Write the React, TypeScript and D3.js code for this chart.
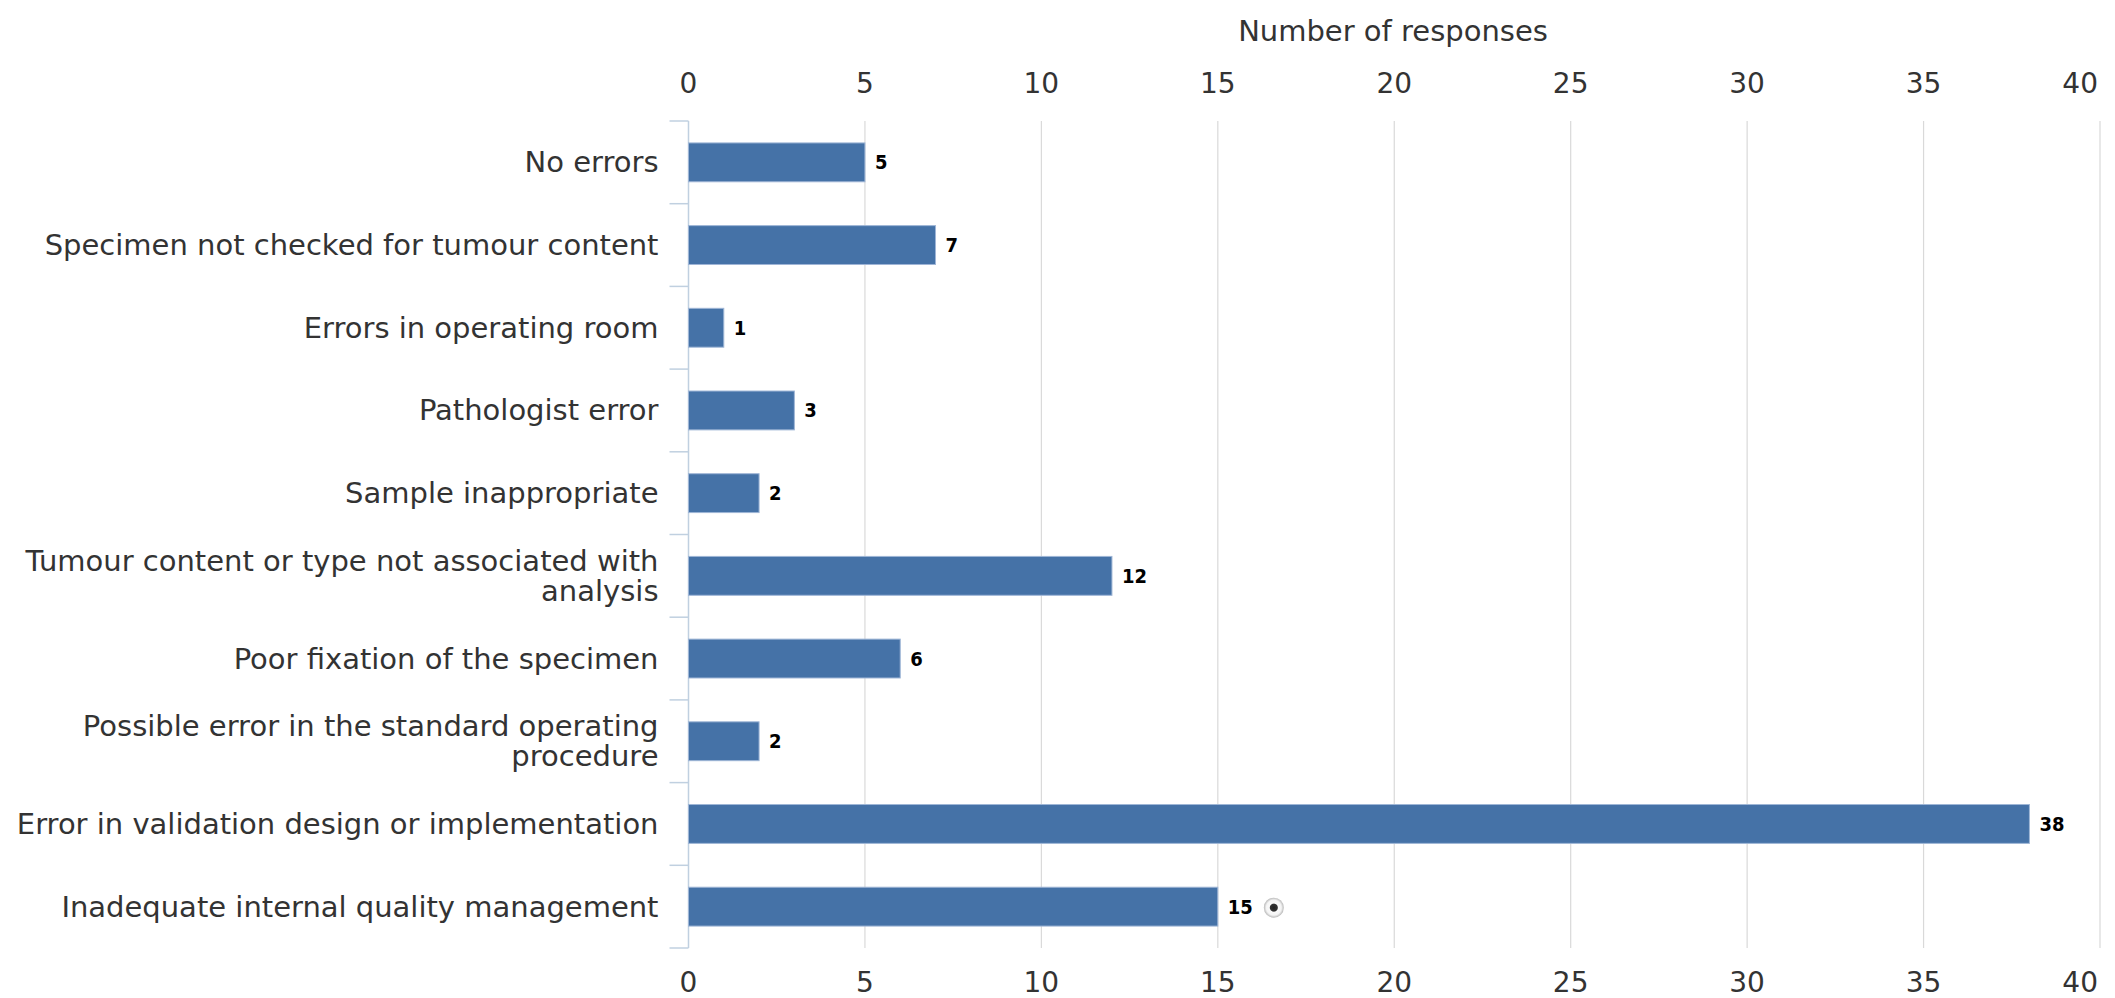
import React from "react";
import * as d3 from "d3";

const categories: string[][] = [
  ["No errors"],
  ["Specimen not checked for tumour content"],
  ["Errors in operating room"],
  ["Pathologist error"],
  ["Sample inappropriate"],
  ["Tumour content or type not associated with", "analysis"],
  ["Poor fixation of the specimen"],
  ["Possible error in the standard operating", "procedure"],
  ["Error in validation design or implementation"],
  ["Inadequate internal quality management"],
];
const values: number[] = [5, 7, 1, 3, 2, 12, 6, 2, 38, 15];
const xTicks: number[] = [0, 5, 10, 15, 20, 25, 30, 35, 40];
const axisTitle = "Number of responses";

const W = 2115;
const H = 998;
const left = 688.5;
const right = 2100;
const top = 121;
const bottom = 948;
const FONT = "'DejaVu Sans', Verdana, sans-serif";
const BAR = "#4572A7";

export default function App() {
  const keys = categories.map((_, i) => String(i));
  const x = d3.scaleLinear().domain([0, 40]).range([left, right]);
  const y = d3
    .scaleBand<string>()
    .domain(keys)
    .range([top, bottom])
    .paddingInner(0.53)
    .paddingOuter(0.265);
  const step = y.step();
  const boundaries = d3.range(categories.length + 1).map((i) => top + i * step);

  return (
    <svg
      width={W}
      height={H}
      style={{ position: "absolute", left: 0, top: 0, background: "#fff" }}
      fontFamily={FONT}
    >
      <defs>
        <radialGradient id="dotg">
          <stop offset="0%" stopColor="#222" />
          <stop offset="35%" stopColor="#333" />
          <stop offset="45%" stopColor="#fafafa" />
          <stop offset="75%" stopColor="#f4f4f4" />
          <stop offset="100%" stopColor="#b8b8b8" />
        </radialGradient>
      </defs>
      {/* grid lines */}
      {xTicks
        .filter((t) => t !== 0)
        .map((t) => (
          <line
            key={"g" + t}
            x1={x(t)}
            x2={x(t)}
            y1={top}
            y2={bottom}
            stroke="#d9d9d9"
            strokeWidth={1.2}
          />
        ))}
      {/* category axis */}
      <line x1={left} x2={left} y1={top} y2={bottom} stroke="#C0D0E0" strokeWidth={1.5} />
      {boundaries.map((b, i) => (
        <line key={"t" + i} x1={left - 19} x2={left} y1={b} y2={b} stroke="#C0D0E0" strokeWidth={1.5} />
      ))}
      {/* bars */}
      {values.map((v, i) => (
        <rect
          key={"b" + i}
          x={x(0)}
          y={y(String(i))!}
          width={x(v) - x(0)}
          height={y.bandwidth()}
          fill={BAR}
          stroke="#9fb6d6"
          strokeWidth={1}
        />
      ))}
      {/* value labels */}
      {values.map((v, i) => (
        <text
          key={"v" + i}
          x={x(v) + 10}
          y={y(String(i))! + y.bandwidth() / 2 + 7}
          fontFamily="'DejaVu Sans Condensed', 'DejaVu Sans', sans-serif"
          fontWeight="bold"
          fontSize={20}
          fill="#000"
          style={{ fontStretch: "condensed" }}
        >
          {v}
        </text>
      ))}
      {/* marker next to last value */}
      <circle
        cx={x(values[values.length - 1]) + 56}
        cy={y(String(values.length - 1))! + y.bandwidth() / 2 + 1}
        r={10}
        fill="url(#dotg)"
      />
      {/* category labels */}
      {categories.map((lines, i) => {
        const c = y(String(i))! + y.bandwidth() / 2;
        const lh = 30;
        const start = c + 10 - ((lines.length - 1) * lh) / 2;
        return (
          <text key={"c" + i} textAnchor="end" fontSize={29} fill="#333">
            {lines.map((ln, j) => (
              <tspan key={j} x={left - 30} y={start + j * lh}>
                {ln}
              </tspan>
            ))}
          </text>
        );
      })}
      {/* top tick labels */}
      {xTicks.map((t, i) => (
        <text
          key={"tt" + t}
          x={i === xTicks.length - 1 ? right - 2 : x(t)}
          y={93}
          textAnchor={i === xTicks.length - 1 ? "end" : "middle"}
          fontSize={28}
          fill="#333"
        >
          {t}
        </text>
      ))}
      {/* bottom tick labels */}
      {xTicks.map((t, i) => (
        <text
          key={"bt" + t}
          x={i === xTicks.length - 1 ? right - 2 : x(t)}
          y={992}
          textAnchor={i === xTicks.length - 1 ? "end" : "middle"}
          fontSize={28}
          fill="#333"
        >
          {t}
        </text>
      ))}
      {/* axis title */}
      <text x={1393} y={41} textAnchor="middle" fontSize={29} fill="#333">
        {axisTitle}
      </text>
    </svg>
  );
}
